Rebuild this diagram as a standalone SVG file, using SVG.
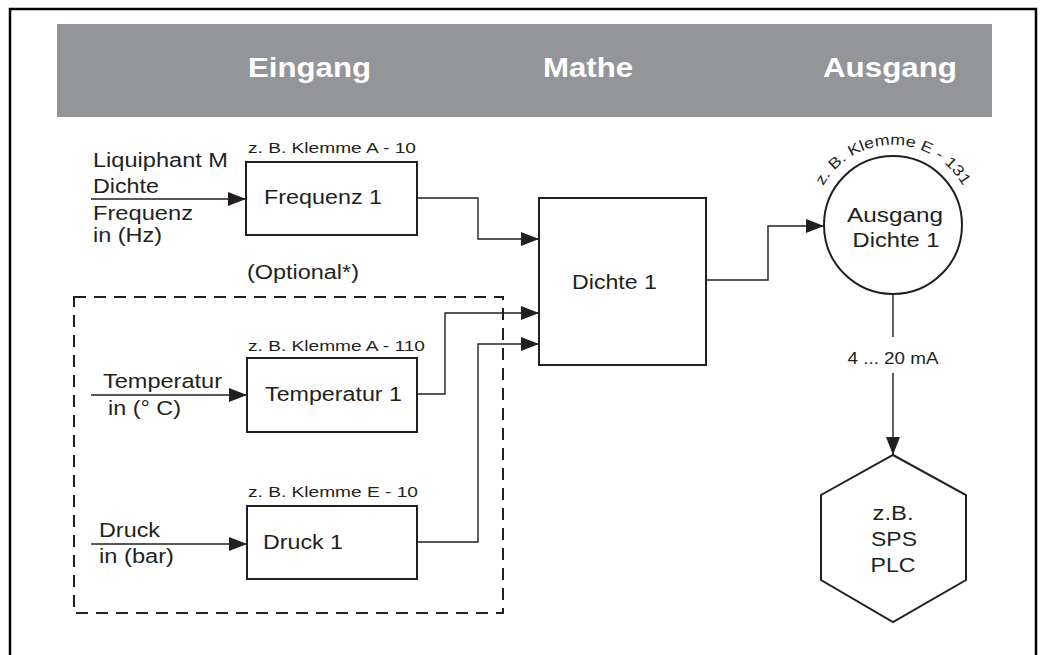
<svg xmlns="http://www.w3.org/2000/svg" width="1040" height="655" viewBox="0 0 1040 655">
<defs>
<style>
text{font-family:"Liberation Sans",Arial,sans-serif;fill:#231f20;}
.hdr{font-size:28px;font-weight:bold;fill:#ffffff;}
.lbl{font-size:20px;}
.sm{font-size:14px;}
.box{fill:#ffffff;stroke:#231f20;stroke-width:2;}
.ln{fill:none;stroke:#231f20;stroke-width:1.4;}
.arr{fill:none;stroke:#231f20;stroke-width:1.4;marker-end:url(#ah);}
</style>
<marker id="ah" markerUnits="userSpaceOnUse" markerWidth="18" markerHeight="14" refX="18" refY="7" orient="auto">
<path d="M0,0 L18,7 L0,14 Z" fill="#231f20"/>
</marker>
<path id="arc" d="M815.7,204.3 A80,80 0 0 1 970.3,204.3"/>
</defs>
<rect width="1040" height="655" fill="#ffffff"/>
<path d="M10,660 V9 H1036 V660" fill="none" stroke="#000000" stroke-width="2.5"/>
<g id="header">
<rect x="57" y="24" width="935" height="93" fill="#949599"/>
<text class="hdr" x="248" y="77" textLength="123" lengthAdjust="spacingAndGlyphs">Eingang</text>
<text class="hdr" x="543" y="77" textLength="90" lengthAdjust="spacingAndGlyphs">Mathe</text>
<text class="hdr" x="823" y="77" textLength="134" lengthAdjust="spacingAndGlyphs">Ausgang</text>
</g>
<g id="optional">
<rect x="74" y="297" width="429" height="316" fill="none" stroke="#231f20" stroke-width="2" stroke-dasharray="12,8"/>
<text class="lbl" x="247" y="279" textLength="112" lengthAdjust="spacingAndGlyphs">(Optional*)</text>
</g>
<g id="in-liquiphant">
<text class="lbl" x="93" y="167" textLength="135" lengthAdjust="spacingAndGlyphs">Liquiphant M</text>
<text class="lbl" x="93" y="193" textLength="66" lengthAdjust="spacingAndGlyphs">Dichte</text>
<text class="lbl" x="93" y="220" textLength="100" lengthAdjust="spacingAndGlyphs">Frequenz</text>
<text class="lbl" x="93" y="242" textLength="69" lengthAdjust="spacingAndGlyphs">in (Hz)</text>
</g>
<g id="in-temperatur">
<text class="lbl" x="103" y="388" textLength="119" lengthAdjust="spacingAndGlyphs">Temperatur</text>
<text class="lbl" x="108" y="415" textLength="73" lengthAdjust="spacingAndGlyphs">in (° C)</text>
</g>
<g id="in-druck">
<text class="lbl" x="99" y="537" textLength="61" lengthAdjust="spacingAndGlyphs">Druck</text>
<text class="lbl" x="99" y="563" textLength="75" lengthAdjust="spacingAndGlyphs">in (bar)</text>
</g>
<g id="frequenz1">
<text class="sm" x="248" y="153" textLength="168" lengthAdjust="spacingAndGlyphs">z. B. Klemme  A - 10</text>
<rect class="box" x="246" y="162" width="171" height="73"/>
<text class="lbl" x="264" y="204" textLength="118" lengthAdjust="spacingAndGlyphs">Frequenz 1</text>
</g>
<g id="temperatur1">
<text class="sm" x="248" y="351" textLength="177" lengthAdjust="spacingAndGlyphs">z. B. Klemme  A - 110</text>
<rect class="box" x="247" y="358" width="170" height="74"/>
<text class="lbl" x="265" y="401" textLength="137" lengthAdjust="spacingAndGlyphs">Temperatur 1</text>
</g>
<g id="druck1">
<text class="sm" x="248" y="497" textLength="170" lengthAdjust="spacingAndGlyphs">z. B. Klemme  E - 10</text>
<rect class="box" x="247" y="506" width="170" height="73"/>
<text class="lbl" x="263" y="549" textLength="80" lengthAdjust="spacingAndGlyphs">Druck 1</text>
</g>
<g id="dichte1">
<rect class="box" x="539" y="198" width="167" height="167"/>
<text class="lbl" x="572" y="289" textLength="85" lengthAdjust="spacingAndGlyphs">Dichte 1</text>
</g>
<g id="ausgang-dichte1">
<circle class="box" cx="893" cy="225" r="69"/>
<text font-size="15" textLength="170" lengthAdjust="spacingAndGlyphs"><textPath href="#arc" startOffset="50%" text-anchor="middle">z. B. Klemme E - 131</textPath></text>
<text class="lbl" x="895" y="222" text-anchor="middle" textLength="96" lengthAdjust="spacingAndGlyphs">Ausgang</text>
<text class="lbl" x="896" y="247" text-anchor="middle" textLength="87" lengthAdjust="spacingAndGlyphs">Dichte 1</text>
</g>
<g id="sps-plc">
<polygon class="box" points="893,455 966,495 966,580 893,622 821,580 821,495"/>
<text class="lbl" x="893" y="520" text-anchor="middle" textLength="41" lengthAdjust="spacingAndGlyphs">z.B.</text>
<text class="lbl" x="894" y="546" text-anchor="middle" textLength="46" lengthAdjust="spacingAndGlyphs">SPS</text>
<text class="lbl" x="893" y="572" text-anchor="middle" textLength="45" lengthAdjust="spacingAndGlyphs">PLC</text>
</g>
<g id="connectors">
<path class="arr" d="M91,199 H246"/>
<path class="arr" d="M91,395 H247"/>
<path class="arr" d="M91,544 H247"/>
<path class="arr" d="M417,198 H478 V239 H539"/>
<path class="arr" d="M417,394 H445 V313 H539"/>
<path class="arr" d="M417,542 H478 V344 H539"/>
<path class="arr" d="M706,280 H768 V226 H824"/>
<path class="ln" d="M893,294 V337"/>
<path class="arr" d="M893,373 V455"/>
<text x="893" y="364" text-anchor="middle" font-size="16" textLength="91" lengthAdjust="spacingAndGlyphs">4 ... 20 mA</text>
</g>
</svg>
